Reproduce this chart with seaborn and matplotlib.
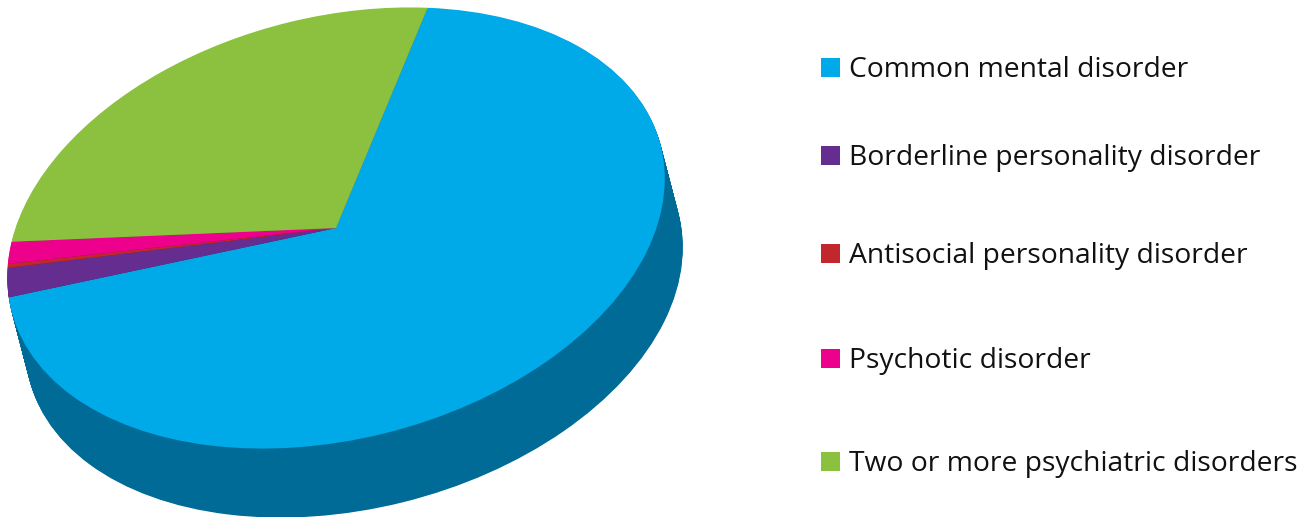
import matplotlib
matplotlib.use("Agg")
import matplotlib.pyplot as plt
import seaborn as sns
from matplotlib.transforms import Affine2D
from matplotlib.patches import Rectangle

# ---- data ----
categories = [
    "Common mental disorder",
    "Borderline personality disorder",
    "Antisocial personality disorder",
    "Psychotic disorder",
    "Two or more psychiatric disorders",
]
values = [69.0, 2.2, 0.3, 1.6, 26.9]
top_colors = ["#00A9E7", "#662D91", "#C1272D", "#EC008C", "#8BC13F"]
side_colors = ["#006B96", "#3F1B5C", "#7C171C", "#960059", "#5A7D28"]

# ---- style ----
sns.set_theme(style="white")
plt.rcParams["font.family"] = ["Open Sans", "DejaVu Sans"]

W, H = 1309, 517
fig = plt.figure(figsize=(W / 100, H / 100), dpi=100)
ax = fig.add_axes([0, 0, 1, 1])

# pie geometry (pixel units, y up)
cx, cy = 336, H - 228
a, b, tilt = 335, 211, 14.3
depth_dx, depth_dy = 18, -69
start = 64.7
n_layers = 90


def ellipse_tf(dx=0.0, dy=0.0):
    return Affine2D().scale(a, b).rotate_deg(tilt).translate(cx + dx, cy + dy) + ax.transData


# extruded side: stacked darker layers
for k in range(n_layers, 0, -1):
    f = k / n_layers
    wedges, _ = ax.pie(values, colors=side_colors, startangle=start,
                       counterclock=False, wedgeprops=dict(linewidth=0))
    for w in wedges:
        w.set_transform(ellipse_tf(depth_dx * f, depth_dy * f))

# top face
wedges, _ = ax.pie(values, colors=top_colors, startangle=start,
                   counterclock=False, wedgeprops=dict(linewidth=0))
for w in wedges:
    w.set_transform(ellipse_tf())

# ---- legend ----
legend_baselines = [77, 165, 263, 368, 471]  # screen px (bottom of squares)
sq = 19
for cat, col, yb in zip(categories, top_colors, legend_baselines):
    y = H - yb
    ax.add_patch(Rectangle((821, y), sq, sq, facecolor=col, edgecolor="none"))
    ax.text(849, y, cat, fontsize=20.3, color="#111111", va="baseline", ha="left")

ax.set_xlim(0, W)
ax.set_ylim(0, H)
ax.set_aspect("auto")
ax.axis("off")

fig.savefig("out.png", dpi=100, facecolor="white")
